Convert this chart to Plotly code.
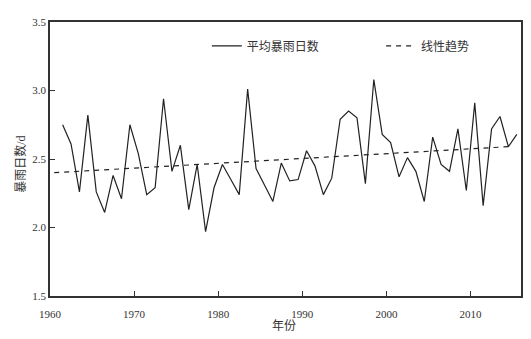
import plotly.graph_objects as go

years = list(range(1961, 2016))
rain_days = [2.75, 2.61, 2.26, 2.82, 2.26, 2.11, 2.38, 2.21, 2.75, 2.54,
             2.24, 2.29, 2.94, 2.41, 2.60, 2.13, 2.46, 1.97, 2.29, 2.46,
             2.35, 2.24, 3.01, 2.43, 2.31, 2.19, 2.47, 2.34, 2.35, 2.56,
             2.45, 2.24, 2.36, 2.79, 2.85, 2.80, 2.32, 3.08, 2.68, 2.62,
             2.37, 2.51, 2.41, 2.19, 2.66, 2.46, 2.41, 2.72, 2.27, 2.91,
             2.16, 2.72, 2.81, 2.59, 2.68]
trend_years = [1960.5, 2014.5]
trend_values = [2.40, 2.59]

x_tick_vals = [1960, 1970, 1980, 1990, 2000, 2010]
y_tick_vals = [1.5, 2.0, 2.5, 3.0, 3.5]

series_name = "平均暴雨日数"
trend_name = "线性趋势"
x_title = "年份"
y_title = "暴雨日数/d"

FONT = "Liberation Serif, Noto Sans CJK SC, serif"
TXT = "#333"

# points are drawn at mid-year
x_mid = [y + 0.5 for y in years]

fig = go.Figure()
fig.add_trace(go.Scatter(x=x_mid, y=rain_days, mode="lines", name=series_name,
                         legend="legend",
                         line=dict(color="#222", width=1.2)))
fig.add_trace(go.Scatter(x=trend_years, y=trend_values, mode="lines", name=trend_name,
                         legend="legend2",
                         line=dict(color="#222", width=1.2, dash="5px,5px")))

axis_common = dict(showgrid=False, zeroline=False, showline=True, linecolor="#333",
                   linewidth=1.5, mirror=True, ticks="inside", ticklen=5, tickwidth=1,
                   tickcolor="#333", tickfont=dict(family=FONT, size=11, color=TXT))

leg_common = dict(orientation="h", y=0.913, xanchor="left", yanchor="middle",
                  bgcolor="rgba(0,0,0,0)", font=dict(family=FONT, size=12, color=TXT))

fig.update_layout(
    width=523, height=331,
    margin=dict(l=42, r=10, t=8, b=43),
    paper_bgcolor="white", plot_bgcolor="white",
    font=dict(family=FONT, size=11, color=TXT),
    showlegend=True,
    legend=dict(x=0.333, **leg_common),
    legend2=dict(x=0.703, **leg_common),
    xaxis=dict(range=[1960, 2016], tickvals=x_tick_vals, ticklabelstandoff=7,
               **axis_common),
    yaxis=dict(range=[1.5, 3.5], tickvals=y_tick_vals, tickformat=".1f",
               **axis_common),
    annotations=[
        dict(text=x_title, xref="paper", yref="paper", x=0.496, y=-0.109,
             xanchor="center", yanchor="middle", showarrow=False,
             font=dict(family=FONT, size=12, color=TXT)),
        dict(text=y_title, xref="paper", yref="paper", x=-0.063, y=0.48,
             xanchor="center", yanchor="middle", showarrow=False, textangle=-90,
             font=dict(family=FONT, size=12, color=TXT)),
    ],
)

fig.write_html("out.html")
